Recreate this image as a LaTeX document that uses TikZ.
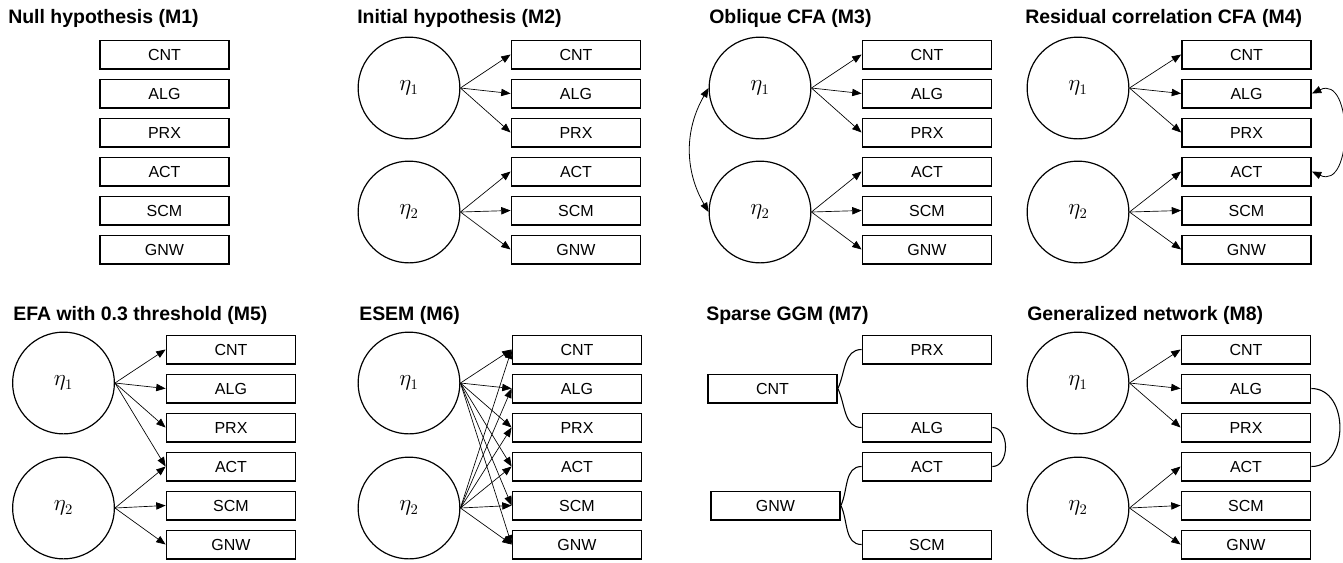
\documentclass[tikz,border=0pt]{standalone}
\usepackage{fontspec}
\setmainfont{Liberation Sans}
\usetikzlibrary{arrows.meta}

\begin{document}
\begin{tikzpicture}[x=0.75pt, y=-0.75pt,
        obs/.style={draw, line width=1.1pt, minimum width=97pt, minimum height=21.4pt, inner sep=0pt, font=\fontsize{12}{14}\selectfont},
        lat/.style={circle, draw, line width=0.9pt, minimum size=76.3pt, inner sep=0pt, font=\fontsize{16}{18}\selectfont},
        loading/.style={-{Triangle[length=7pt,width=5.5pt]}, line width=0.5pt},
        corr/.style={{Triangle[length=7pt,width=5.5pt]}-{Triangle[length=7pt,width=5.5pt]}, line width=0.6pt},
        partial/.style={line width=0.8pt},
        heading/.style={anchor=base west, inner sep=0pt, font=\fontsize{14.6}{17}\selectfont\bfseries}]
        \useasboundingbox (0,0) rectangle (1343,562);

        % (M1) null hypothesis
        \begin{scope}[shift={(8,0)}]
            \node[heading] (a-t) at (0,23) {Null hypothesis (M1)};
            \foreach \lbl [count=\i] in {CNT,ALG,PRX,ACT,SCM,GNW}
                \node[obs] (a\i) at (156.5, 15.5+39*\i) {\lbl};
        \end{scope}

        % (M2) initial hypothesis
        \begin{scope}[shift={(357,0)}]
            \node[heading] (b-t) at (0,23) {Initial hypothesis (M2)};
            \node[lat] (b-e1) at (52,88) {$\eta_1$};
            \node[lat] (b-e2) at (52,212) {$\eta_2$};
            \foreach \lbl [count=\i] in {CNT,ALG,PRX,ACT,SCM,GNW}
                \node[obs] (b\i) at (219, 15.5+39*\i) {\lbl};
            \foreach \j in {1,2,3} \draw[loading] (b-e1.east) -- (b\j.west);
            \foreach \j in {4,5,6} \draw[loading] (b-e2.east) -- (b\j.west);
        \end{scope}

        % (M3) oblique CFA
        \begin{scope}[shift={(708,0)}]
            \node[heading] (c-t) at (1,23) {Oblique CFA (M3)};
            \node[lat] (c-e1) at (52,88) {$\eta_1$};
            \node[lat] (c-e2) at (52,212) {$\eta_2$};
            \foreach \lbl [count=\i] in {CNT,ALG,PRX,ACT,SCM,GNW}
                \node[obs] (c\i) at (219, 15.5+39*\i) {\lbl};
            \foreach \j in {1,2,3} \draw[loading] (c-e1.east) -- (c\j.west);
            \foreach \j in {4,5,6} \draw[loading] (c-e2.east) -- (c\j.west);
            \draw[corr] (c-e1.west) to[out=240, in=120] (c-e2.west);
        \end{scope}

        % (M4) residual correlation CFA
        \begin{scope}[shift={(1026,0)}]
            \node[heading] (d-t) at (-1,23) {Residual correlation CFA (M4)};
            \node[lat] (d-e1) at (52,88) {$\eta_1$};
            \node[lat] (d-e2) at (52,212) {$\eta_2$};
            \foreach \lbl [count=\i] in {CNT,ALG,PRX,ACT,SCM,GNW}
                \node[obs] (d\i) at (220.5, 15.5+39*\i) {\lbl};
            \foreach \j in {1,2,3} \draw[loading] (d-e1.east) -- (d\j.west);
            \foreach \j in {4,5,6} \draw[loading] (d-e2.east) -- (d\j.west);
            \draw[corr] (d2.east) to[out=25, in=-25, looseness=1.5] (d4.east);
        \end{scope}

        % (M5) EFA with 0.3 threshold
        \begin{scope}[shift={(12,295)}]
            \node[heading] (e-t) at (1,25) {EFA with 0.3 threshold (M5)};
            \node[lat] (e-e1) at (51.5,88) {$\eta_1$};
            \node[lat] (e-e2) at (51.5,213) {$\eta_2$};
            \foreach \lbl [count=\i] in {CNT,ALG,PRX,ACT,SCM,GNW}
                \node[obs] (e\i) at (219, 15.5+39*\i) {\lbl};
            \foreach \j in {1,2,3,4} \draw[loading] (e-e1.east) -- (e\j.west);
            \foreach \j in {4,5,6} \draw[loading] (e-e2.east) -- (e\j.west);
        \end{scope}

        % (M6) ESEM
        \begin{scope}[shift={(357,295)}]
            \node[heading] (f-t) at (2,25) {ESEM (M6)};
            \node[lat] (f-e1) at (52,88) {$\eta_1$};
            \node[lat] (f-e2) at (52,213) {$\eta_2$};
            \foreach \lbl [count=\i] in {CNT,ALG,PRX,ACT,SCM,GNW}
                \node[obs] (f\i) at (220, 15.5+39*\i) {\lbl};
            \foreach \j in {1,...,6} {
                \draw[loading] (f-e1.east) -- (f\j.west);
                \draw[loading] (f-e2.east) -- (f\j.west);
            }
        \end{scope}

        % (M7) sparse GGM
        \begin{scope}[shift={(708,295)}]
            \node[heading] (g-t) at (-2,25) {Sparse GGM (M7)};
            \node[obs] (g-cnt) at (64.5,93.5) {CNT};
            \node[obs] (g-gnw) at (67.5,210.5) {GNW};
            \node[obs] (g-prx) at (219,54.5) {PRX};
            \node[obs] (g-alg) at (219,132.5) {ALG};
            \node[obs] (g-act) at (219,171.5) {ACT};
            \node[obs] (g-scm) at (219,249.5) {SCM};
            \draw[partial] (g-cnt.east) to[out=65, in=180] (g-prx.west);
            \draw[partial] (g-cnt.east) to[out=-65, in=180] (g-alg.west);
            \draw[partial] (g-gnw.east) to[out=65, in=180] (g-act.west);
            \draw[partial] (g-gnw.east) to[out=-65, in=180] (g-scm.west);
            \draw[partial] (g-alg.east) to[out=0, in=0, looseness=1.15] (g-act.east);
        \end{scope}

        % (M8) generalized network
        \begin{scope}[shift={(1026,295)}]
            \node[heading] (h-t) at (1,25) {Generalized network (M8)};
            \node[lat] (h-e1) at (52,88) {$\eta_1$};
            \node[lat] (h-e2) at (52,213) {$\eta_2$};
            \foreach \lbl [count=\i] in {CNT,ALG,PRX,ACT,SCM,GNW}
                \node[obs] (h\i) at (220, 15.5+39*\i) {\lbl};
            \foreach \j in {1,2,3} \draw[loading] (h-e1.east) -- (h\j.west);
            \foreach \j in {4,5,6} \draw[loading] (h-e2.east) -- (h\j.west);
            \draw[partial] (h2.east) to[out=0, in=0, looseness=1.25] (h4.east);
        \end{scope}
    \end{tikzpicture}
\end{document}
